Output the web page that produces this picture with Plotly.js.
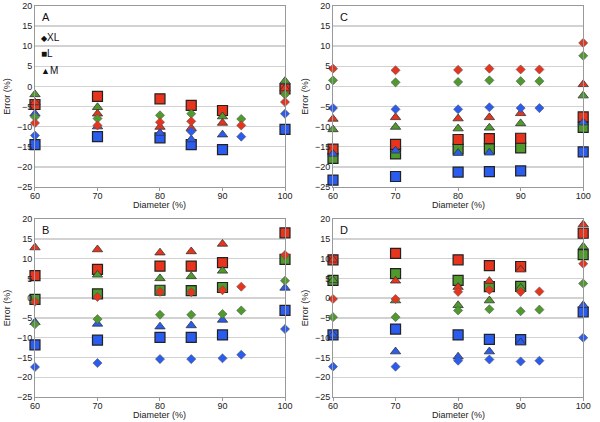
<!DOCTYPE html>
<html>
<head>
<meta charset="utf-8">
<script src="https://cdn.plot.ly/plotly-3.0.1.min.js"></script>
<style>
  html, body { margin: 0; padding: 0; background: #fff; }
  #chart { width: 600px; height: 422px; }
</style>
</head>
<body>
<div id="chart"></div>
<script>
// diameter categories (%)
const diameters = [60, 70, 80, 85, 90, 93, 100];
const x_ticks = [60, 70, 80, 90, 100];
const y_ticks = [-25, -20, -15, -10, -5, 0, 5, 10, 15, 20];

// panel A
const a_xl_red   = [-9.1, -9.7, -8.9, -8.7, null, -9.7, -3.9];
const a_xl_green = [-7.6, -8.0, -7.2, -6.8, null, -8.1, -2.0];
const a_xl_blue  = [-12.2, null, null, -11.2, null, -12.5, -6.8];
const a_l_red    = [-4.5, -2.5, -3.1, -4.7, -6.0, null, -0.6];
const a_l_green  = [null, null, null, null, null, null, null];
const a_l_blue   = [-14.5, -12.5, -12.8, -14.5, -15.7, null, -10.7];
const a_m_red    = [-4.0, -6.8, -10.1, -10.4, -9.1, null, -0.5];
const a_m_green  = [-2.0, -5.2, null, null, -7.5, null, 1.3];
const a_m_blue   = [-6.8, -10.0, -11.6, -13.2, -12.0, null, null];

// panel B
const b_xl_red   = [-0.9, 0.3, 1.6, 1.5, 2.0, 2.9, 10.9];
const b_xl_green = [-6.6, -5.3, -4.2, -4.2, -4.0, -3.1, 4.4];
const b_xl_blue  = [-17.4, -16.4, -15.4, -15.4, -15.2, -14.3, -7.8];
const b_l_red    = [5.7, 7.3, 8.1, 8.1, 9.0, null, 16.5];
const b_l_green  = [-0.3, 1.1, 2.0, 1.9, 2.7, null, 9.8];
const b_l_blue   = [-11.8, -10.6, -9.9, -9.9, -9.3, null, -3.1];
const b_m_red    = [12.8, 12.3, 11.5, 11.8, 13.7, null, null];
const b_m_green  = [null, 5.9, 5.0, 5.5, 6.9, null, null];
const b_m_blue   = [-6.1, -6.5, -7.2, -6.9, -5.5, null, 2.6];

// panel C
const c_xl_red   = [4.4, 4.0, 4.1, 4.4, 4.2, 4.2, 10.8];
const c_xl_green = [1.5, 1.0, 1.1, 1.5, 1.3, 1.3, 7.6];
const c_xl_blue  = [-5.4, -5.7, -5.7, -5.2, -5.4, -5.4, null];
const c_l_red    = [-15.6, -14.4, -13.2, -13.0, -12.9, null, -7.6];
const c_l_green  = [-17.9, -16.8, -15.6, -15.5, -15.3, null, -10.2];
const c_l_blue   = [-23.3, -22.4, -21.3, -21.2, -21.0, null, -16.3];
const c_m_red    = [-8.1, -7.7, -8.0, -7.7, -6.7, null, 0.5];
const c_m_green  = [-10.7, -10.1, -10.5, -10.3, -9.2, null, -2.3];
const c_m_blue   = [-16.8, -16.0, -16.6, -16.5, null, null, -9.0];

// panel D
const d_xl_red   = [-0.2, -0.2, 1.6, 2.1, 1.6, 1.7, 8.7];
const d_xl_green = [-4.8, -4.8, -3.1, -2.8, -3.3, -2.9, 3.7];
const d_xl_blue  = [-17.3, -17.3, -15.8, -15.5, -16.0, -15.8, -10.0];
const d_l_red    = [9.7, 11.3, 9.7, 8.2, 8.0, null, 16.4];
const d_l_green  = [4.5, 6.2, 4.5, 2.9, 3.0, null, 11.0];
const d_l_blue   = [-9.3, -7.8, -9.3, -10.4, -10.5, null, -3.5];
const d_m_red    = [9.7, 4.4, 2.8, 4.3, 7.2, null, 18.6];
const d_m_green  = [4.5, -0.6, -1.8, -0.6, 2.6, null, 13.0];
const d_m_blue   = [-9.3, -13.5, -14.8, -13.5, -11.2, null, -1.8];

const panels = [
  { label: "A", xa: "x",  ya: "y",  xl: [a_xl_red, a_xl_green, a_xl_blue], l: [a_l_red, a_l_green, a_l_blue], m: [a_m_red, a_m_green, a_m_blue] },
  { label: "C", xa: "x2", ya: "y2", xl: [c_xl_red, c_xl_green, c_xl_blue], l: [c_l_red, c_l_green, c_l_blue], m: [c_m_red, c_m_green, c_m_blue] },
  { label: "B", xa: "x3", ya: "y3", xl: [b_xl_red, b_xl_green, b_xl_blue], l: [b_l_red, b_l_green, b_l_blue], m: [b_m_red, b_m_green, b_m_blue] },
  { label: "D", xa: "x4", ya: "y4", xl: [d_xl_red, d_xl_green, d_xl_blue], l: [d_l_red, d_l_green, d_l_blue], m: [d_m_red, d_m_green, d_m_blue] }
];

const colors = ["#e8341c", "#4e9a2c", "#2a5cf0"]; // red, green, blue
const color_names = ["red", "green", "blue"];

const shapes = {
  l:  { symbol: "square", size: 10, line: { color: "#222", width: 1.2 } },
  m:  { symbol: "triangle-up", size: 9, line: { color: "#333", width: 0.8 } },
  xl: { symbol: "diamond", size: 7, line: { color: "#555", width: 0.6 } }
};

let data = [];
panels.forEach(p => {
  // squares at the back, then triangles, then diamonds; blue first, red on top
  ["l", "m", "xl"].forEach(kind => {
    [2, 1, 0].forEach(ci => {
      data.push({
        x: diameters,
        y: p[kind][ci],
        xaxis: p.xa,
        yaxis: p.ya,
        type: "scatter",
        mode: "markers",
        name: p.label + " " + kind.toUpperCase() + " " + color_names[ci],
        cliponaxis: false,
        marker: {
          symbol: shapes[kind].symbol,
          size: shapes[kind].size,
          color: colors[ci],
          line: shapes[kind].line
        }
      });
    });
  });
});

const font_family = "Liberation Sans, Arial, sans-serif";

function make_xaxis(domain, anchor) {
  return {
    domain: domain,
    anchor: anchor,
    range: [60, 100],
    tickvals: x_ticks,
    ticks: "outside",
    ticklen: 3,
    tickcolor: "#999",
    ticklabelstandoff: -3,
    showgrid: false,
    zeroline: false,
    showline: true,
    mirror: true,
    linecolor: "#999",
    linewidth: 1,
    tickfont: { family: font_family, size: 9, color: "#222" }
  };
}

function make_yaxis(domain, anchor) {
  return {
    domain: domain,
    anchor: anchor,
    range: [-25, 20],
    tickvals: y_ticks,
    ticks: "",
    showgrid: true,
    gridcolor: "#d2d2d2",
    gridwidth: 1.5,
    zeroline: false,
    showline: true,
    mirror: true,
    linecolor: "#999",
    linewidth: 1,
    tickfont: { family: font_family, size: 9, color: "#222" },
    title: { text: "Error (%)", font: { family: font_family, size: 9, color: "#222" }, standoff: 4 }
  };
}

const left_dom = [0.0583, 0.475];
const right_dom = [0.555, 0.972];
const top_dom = [0.557, 0.986];
const bot_dom = [0.059, 0.481];

let annotations = [];
panels.forEach(p => {
  annotations.push({
    xref: p.xa + " domain", yref: p.ya + " domain",
    x: 0.02, y: 0.985,
    xanchor: "left", yanchor: "top",
    text: p.label,
    showarrow: false,
    font: { family: font_family, size: 11, color: "#111" }
  });
  // x axis title, set close under the tick labels
  annotations.push({
    xref: p.xa + " domain", yref: p.ya + " domain",
    x: 0.5, y: 0,
    xanchor: "center", yanchor: "top",
    yshift: -11,
    text: "Diameter (%)",
    showarrow: false,
    font: { family: font_family, size: 9, color: "#222" }
  });
});

// legend key in panel A
const legend_glyphs = ["◆", "■", "▲"];
const legend_glyph_sizes = [8, 10, 9];
const legend_labels = ["XL", "L", "M"];
const legend_y = [0.825, 0.735, 0.645];
legend_glyphs.forEach((g, i) => {
  annotations.push({
    xref: "x domain", yref: "y domain",
    x: 0.015, y: legend_y[i],
    xanchor: "left", yanchor: "middle",
    text: "<span style='font-size:" + legend_glyph_sizes[i] + "px;color:#111'>" + g + "</span>" +
          "<span style='color:#111'>" + legend_labels[i] + "</span>",
    showarrow: false,
    font: { family: font_family, size: 10, color: "#111" }
  });
});

const layout = {
  width: 600,
  height: 422,
  margin: { l: 0, r: 0, t: 0, b: 0, pad: 0 },
  paper_bgcolor: "#fff",
  plot_bgcolor: "#fff",
  showlegend: false,
  xaxis: make_xaxis(left_dom, "y"),
  yaxis: make_yaxis(top_dom, "x"),
  xaxis2: make_xaxis(right_dom, "y2"),
  yaxis2: make_yaxis(top_dom, "x2"),
  xaxis3: make_xaxis(left_dom, "y3"),
  yaxis3: make_yaxis(bot_dom, "x3"),
  xaxis4: make_xaxis(right_dom, "y4"),
  yaxis4: make_yaxis(bot_dom, "x4"),
  annotations: annotations
};

Plotly.newPlot("chart", data, layout, { staticPlot: true, displayModeBar: false });
</script>
</body>
</html>
